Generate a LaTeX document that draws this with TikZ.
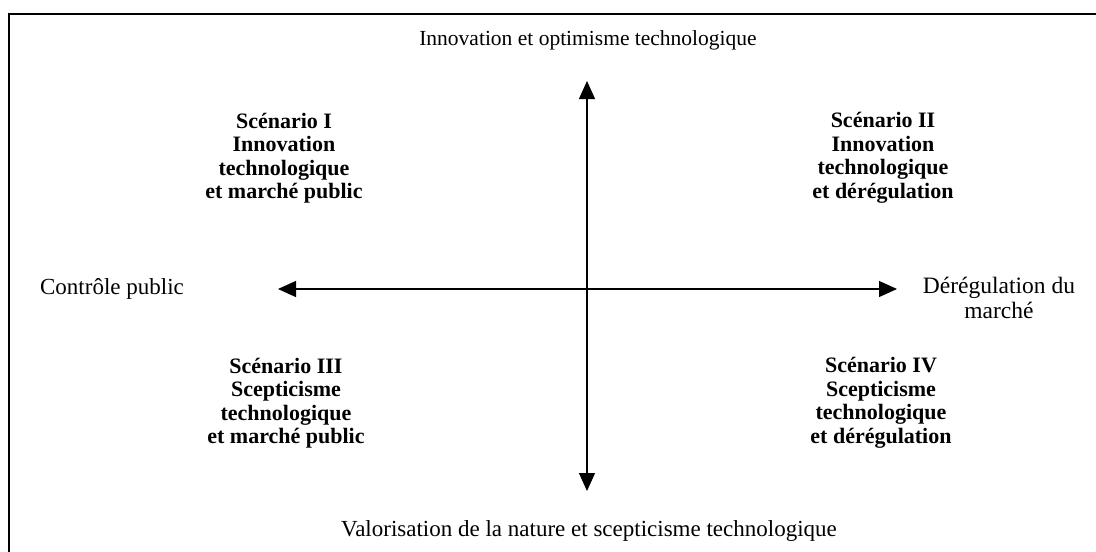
\documentclass[tikz,border=0pt]{standalone}
\usepackage{fontspec}
\setmainfont{Liberation Serif}
\usetikzlibrary{arrows.meta}
\tikzset{
  axislabel/.style={font=\fontsize{22}{26}\selectfont, align=center, inner sep=0pt},
  scen/.style={font=\fontsize{22}{23.5}\selectfont\bfseries, align=center, inner sep=0pt},
  axis/.style={line width=1.2pt, {Triangle[length=18pt,width=16pt]}-{Triangle[length=18pt,width=16pt]}},
  frame/.style={line width=1.4pt}
}
\begin{document}
\begin{tikzpicture}[x=1pt,y=-1pt]
\useasboundingbox (0,0) rectangle (1096,552);
\draw[frame] (9,552) -- (9,14) -- (1096,14);
\coordinate (top) at (587,81);
\coordinate (bot) at (587,491);
\coordinate (lft) at (278,289);
\coordinate (rgt) at (897,289);
\draw[axis] (top) -- (bot);
\draw[axis] (lft) -- (rgt);
\node[axislabel, font=\fontsize{21.5}{25}\selectfont] (tl) at (588,40) {Innovation et optimisme technologique};
\node[axislabel, font=\fontsize{23}{26}\selectfont] (bl) at (589,531) {Valorisation de la nature et scepticisme technologique};
\node[axislabel, font=\fontsize{23}{26}\selectfont] (ll) at (112,289) {Contrôle public};
\node[axislabel, font=\fontsize{23.5}{25}\selectfont, anchor=north] (rl) at (999,277) {Dérégulation du\\marché};
\node[scen] (s1) at (284,158) {Scénario I\\Innovation\\technologique\\et marché public};
\node[scen] (s2) at (883,158) {Scénario II\\Innovation\\technologique\\et dérégulation};
\node[scen] (s3) at (286,403) {Scénario III\\Scepticisme\\technologique\\et marché public};
\node[scen] (s4) at (881,403) {Scénario IV\\Scepticisme\\technologique\\et dérégulation};
\end{tikzpicture}
\end{document}
